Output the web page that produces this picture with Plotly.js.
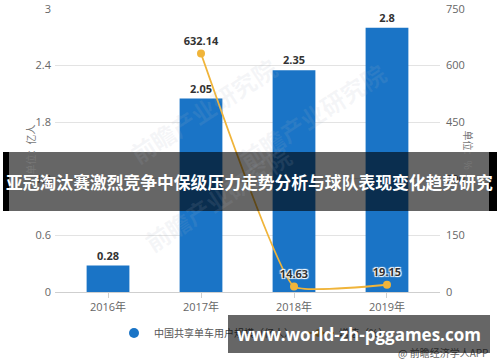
<!DOCTYPE html>
<html>
<head>
<meta charset="utf-8">
<script src="https://cdn.plot.ly/plotly-3.0.1.min.js"></script>
<style>
html,body{margin:0;padding:0;background:#fff;}
#chart{width:500px;height:362px;}
</style>
</head>
<body>
<div id="chart"></div>
<script>
// ---- data ----
const years = ['2016年', '2017年', '2018年', '2019年'];
const userScale = [0.28, 2.05, 2.35, 2.8];          // 中国共享单车用户规模（亿人）
const growthYears = ['2017年', '2018年', '2019年'];
const growthRate = [632.14, 14.63, 19.15];           // 增速（%）
const leftTicks = [0, 0.6, 1.2, 1.8, 2.4, 3];
const rightTicks = [0, 150, 300, 450, 600, 750];
const barName = '中国共享单车用户规模（亿人）';
const lineName = '增速（%）';
const titleText = '亚冠淘汰赛激烈竞争中保级压力走势分析与球队表现变化趋势研究';
const siteText = 'www.world-zh-pggames.com';
const sourceText = '@ 前瞻经济学人APP';

// ---- layout helpers (pixel -> paper) ----
const L = 55, R = 440, T = 9, B = 292;
const px = X => (X - L) / (R - L);
const py = Y => (B - Y) / (B - T);

const FONT = '"Open Sans", "Noto Sans CJK SC", sans-serif';
const CJK = '"Noto Sans CJK SC", "Noto Sans", sans-serif';
const BLUE = '#1a74c6';
const GOLD = '#f0b43a';

const traces = [
  {
    type: 'bar', x: years, y: userScale, name: barName, showlegend: false,
    marker: {color: BLUE}, width: 0.46,
    text: userScale.map(v => String(v)), textposition: 'outside', cliponaxis: false,
    textfont: {family: FONT, size: 11, color: '#333', weight: 'bold'},
    hoverinfo: 'skip'
  },
  {
    type: 'scatter', mode: 'lines+markers+text', x: growthYears, y: growthRate, yaxis: 'y2',
    name: lineName, showlegend: false,
    line: {color: GOLD, width: 1.8, shape: 'spline', smoothing: 0.35},
    marker: {color: GOLD, size: 8},
    text: growthRate.map(v => v.toFixed(2)), textposition: 'top center', cliponaxis: false,
    textfont: {family: FONT, size: 11, color: '#333', weight: 'bold',
      shadow: '1px 1px 1px #fff, -1px -1px 1px #fff, 1px -1px 1px #fff, -1px 1px 1px #fff'},
    hoverinfo: 'skip'
  },
  // legend entries (circle symbols)
  {type: 'scatter', mode: 'markers', x: [null], y: [null], name: barName,
   marker: {color: BLUE, size: 10, symbol: 'circle'}},
  {type: 'scatter', mode: 'lines+markers', x: [null], y: [null], yaxis: 'y2', name: lineName,
   line: {color: GOLD, width: 2}, marker: {color: GOLD, size: 8, symbol: 'circle'}}
];

const wm = (X, Y) => ({
  text: '前瞻产业研究院', x: px(X), y: py(Y), xref: 'paper', yref: 'paper',
  showarrow: false, textangle: -33,
  font: {family: CJK, size: 24, color: 'rgba(170,180,195,0.12)', weight: 'bold'}
});

const layout = {
  width: 500, height: 362,
  margin: {l: L, r: 500 - R, t: T, b: 362 - B, pad: 0},
  paper_bgcolor: '#fff', plot_bgcolor: '#fff',
  font: {family: FONT, size: 11, color: '#666'},
  bargap: 0.5,
  xaxis: {
    type: 'category', range: [-0.57, 3.57], fixedrange: true,
    showline: true, linecolor: '#cfcfcf', linewidth: 1,
    ticks: 'outside', ticklen: 5, tickcolor: '#cfcfcf',
    tickfont: {family: FONT, size: 11, color: '#666'},
    showgrid: false, zeroline: false
  },
  yaxis: {
    range: [0, 3], tickvals: leftTicks, ticktext: leftTicks.map(String),
    showgrid: true, gridcolor: '#e3e3e3', gridwidth: 1, zeroline: false,
    showline: false, ticks: '', ticklabelstandoff: 3,
    tickfont: {family: FONT, size: 11, color: '#666'}
  },
  yaxis2: {
    range: [0, 750], tickvals: rightTicks, ticktext: rightTicks.map(String),
    overlaying: 'y', side: 'right', showgrid: false, zeroline: false,
    showline: false, ticks: '', ticklabelstandoff: 5,
    tickfont: {family: FONT, size: 11, color: '#666'}
  },
  showlegend: true,
  legend: {
    orientation: 'h', x: px(254), xanchor: 'center', y: py(333), yanchor: 'middle',
    font: {family: CJK, size: 10, color: '#555'}, bgcolor: 'rgba(0,0,0,0)',
    itemwidth: 30, tracegroupgap: 0
  },
  shapes: [
    {type: 'rect', xref: 'paper', yref: 'paper', x0: px(3), x1: px(497), y0: py(211), y1: py(152),
     fillcolor: 'rgba(0,0,0,0.6)', line: {width: 0}, layer: 'above'},
    {type: 'rect', xref: 'paper', yref: 'paper', x0: px(3), x1: px(9), y0: py(211), y1: py(152),
     fillcolor: '#000', line: {width: 0}, layer: 'above'},
    {type: 'rect', xref: 'paper', yref: 'paper', x0: px(489), x1: px(497), y0: py(211), y1: py(152),
     fillcolor: '#000', line: {width: 0}, layer: 'above'}
  ],
  annotations: [
    wm(120, 47), wm(395, 52), wm(135, 262),
    {text: '单位：亿人', x: px(20), y: py(150), xref: 'paper', yref: 'paper', showarrow: false,
     textangle: -90, font: {family: CJK, size: 10, color: '#777'}},
    {text: '单位：%', x: px(478), y: py(150), xref: 'paper', yref: 'paper', showarrow: false,
     textangle: 90, font: {family: CJK, size: 10, color: '#777'}},
    {text: sourceText, x: px(490), y: py(352), xref: 'paper', yref: 'paper', xanchor: 'right',
     yanchor: 'middle', showarrow: false, font: {family: CJK, size: 10, color: '#666'}},
    {text: titleText, x: px(250), y: py(181.5), xref: 'paper', yref: 'paper',
     xanchor: 'center', yanchor: 'middle', showarrow: false,
     font: {family: CJK, size: 16.8, color: '#fff', weight: 'bold'}},
    {text: siteText, x: px(359), y: py(334), xref: 'paper', yref: 'paper',
     xanchor: 'center', yanchor: 'middle', showarrow: false,
     width: 262, height: 38, borderpad: 0, borderwidth: 0, bgcolor: 'rgba(0,0,0,0.6)',
     font: {family: '"Open Sans", "Noto Sans", sans-serif', size: 17, color: '#fff', weight: 'bold'}}
  ]
};

Plotly.newPlot('chart', traces, layout, {staticPlot: true, displayModeBar: false});
</script>
</body>
</html>
